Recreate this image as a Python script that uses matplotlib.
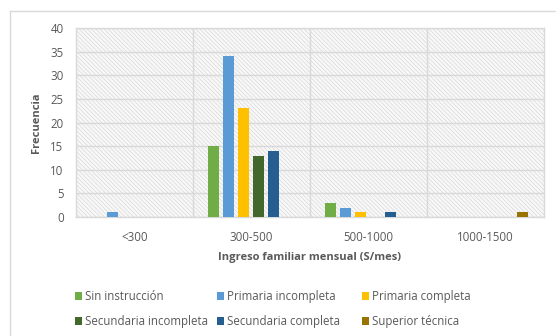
import numpy as np
import matplotlib.pyplot as plt
from matplotlib.patches import Rectangle
from matplotlib.lines import Line2D

plt.rcParams['font.family'] = ['Open Sans', 'DejaVu Sans']
plt.rcParams['hatch.linewidth'] = 0.5

categorias = ['<300', '300-500', '500-1000', '1000-1500']
series = ['Sin instrucción', 'Primaria incompleta', 'Primaria completa',
          'Secundaria incompleta', 'Secundaria completa', 'Superior técnica']
sin_instruccion = [0, 15, 3, 0]
primaria_incompleta = [1, 34, 2, 0]
primaria_completa = [0, 23, 1, 0]
secundaria_incompleta = [0, 13, 0, 0]
secundaria_completa = [0, 14, 1, 0]
superior_tecnica = [0, 0, 0, 1]
valores = [sin_instruccion, primaria_incompleta, primaria_completa,
           secundaria_incompleta, secundaria_completa, superior_tecnica]
colores = ['#70AD47', '#5B9BD5', '#FFC000', '#43682B', '#255E91', '#997300']

txt = '#595959'
grid = '#D9D9D9'

fig = plt.figure(figsize=(5.56, 3.36), dpi=100)
ax = fig.add_axes([0.1367, 0.354, 0.8413, 0.5627])

# outer chart frame (top and left edges visible)
fig.add_artist(Line2D([10/556, 1], [1 - 11/336, 1 - 11/336], transform=fig.transFigure,
                      color=grid, lw=1))
fig.add_artist(Line2D([10/556, 10/556], [0, 1 - 11/336], transform=fig.transFigure,
                      color=grid, lw=1))

# hatched plot area
ax.add_patch(Rectangle((0, 0), 1, 1, transform=ax.transAxes, facecolor='#F8F8F8',
                       edgecolor='#D9D9D9', linewidth=0, hatch='\\' * 8, zorder=0))

x = np.arange(len(categorias))
paso = 0.128
ancho = 0.094
for i, (nombre, vals, c) in enumerate(zip(series, valores, colores)):
    off = (i - 2.5) * paso
    ax.bar(x + off, vals, width=ancho, color=c, label=nombre, zorder=3)

ax.set_xlim(-0.5, 3.5)
ax.set_ylim(0, 40)
ax.set_yticks(range(0, 41, 5))
ax.set_xticks(x)
ax.set_xticklabels(categorias)
ax.set_xticks([0.5, 1.5, 2.5], minor=True)
ax.grid(True, axis='y', which='major', color=grid, lw=1, zorder=1)
ax.grid(True, axis='x', which='minor', color=grid, lw=1, zorder=1)
ax.tick_params(which='both', length=0, colors=txt, labelsize=8.3)
ax.tick_params(axis='x', pad=10)
ax.tick_params(axis='y', pad=9)
for s in ax.spines.values():
    s.set_color(grid)
    s.set_linewidth(1)
ax.set_axisbelow(True)

ax.set_ylabel('Frecuencia', fontsize=8, fontweight='bold', color=txt, labelpad=6)
ax.set_xlabel('Ingreso familiar mensual (S/mes)', fontsize=8, fontweight='bold',
              color=txt, labelpad=6)

# legend: three columns of equal width, two rows
h, l = ax.get_legend_handles_labels()
col_x = [75, 217, 362]
for j, cx in enumerate(col_x):
    leg = fig.legend([h[j], h[j + 3]], [l[j], l[j + 3]], loc='upper left',
                     bbox_to_anchor=(cx / 556, 1 - 290 / 336), frameon=False,
                     fontsize=8.3, handlelength=0.6, handleheight=0.6,
                     handletextpad=0.3, labelspacing=1.05, labelcolor=txt,
                     borderpad=0, borderaxespad=0)

fig.savefig('out.png', dpi=100)
